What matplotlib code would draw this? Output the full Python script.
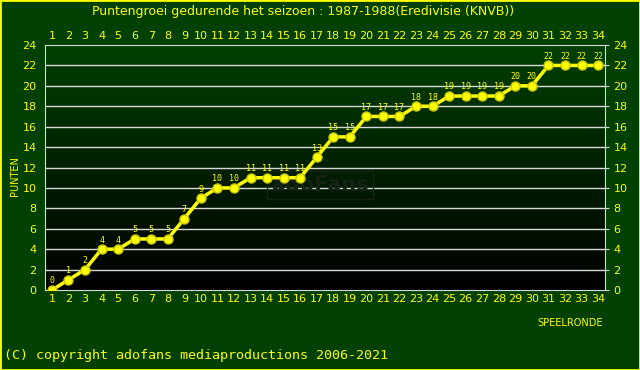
import numpy as np
import matplotlib
matplotlib.use('Agg')
from matplotlib import pyplot as plt

# speelronde en punten
rondes = list(range(1, 35))
punten = [0, 1, 2, 4, 4, 5, 5, 5, 7, 9, 10, 10, 11, 11, 11, 11, 13, 15, 15,
          17, 17, 17, 18, 18, 19, 19, 19, 19, 20, 20, 22, 22, 22, 22]
y_ticks = list(range(0, 25, 2))

GEEL = '#ffff00'
BG = '#004000'

fig = plt.figure(figsize=(6.4, 3.7), dpi=100, facecolor=BG)
ax = fig.add_axes([45 / 640, 80 / 370, 560 / 640, 245 / 370])
ax.set_facecolor('black')

x0, x1 = 0.58, 34.42
ax.set_xlim(x0, x1)
ax.set_ylim(0, 24)

# achtergrond verloop
grad = np.linspace(1, 0, 256).reshape(-1, 1)
cmap = matplotlib.colors.LinearSegmentedColormap.from_list('g', ['#000000', '#004000'])
ax.imshow(grad, extent=[x0, x1, 0, 24], aspect='auto', cmap=cmap, zorder=0,
          origin='upper', vmin=0, vmax=1)

for yv in y_ticks[1:-1]:
    ax.axhline(yv, color='#d8d8d8', lw=1, zorder=1)

ax.text(17.2, 10.3, 'adoFans', ha='center', va='center', fontsize=15,
        fontweight='bold', color='#152215', zorder=1,
        bbox=dict(boxstyle='square,pad=0.2', fc='none', ec='#152215', lw=1))

ax.plot(rondes, punten, '-o', color=GEEL, lw=2.5, ms=6.5, mec='#c8c800', zorder=3)
for r, p in zip(rondes, punten):
    ax.text(r, p + 0.45, str(p), ha='center', va='bottom', fontsize=6,
            family='DejaVu Sans Mono', color=GEEL, zorder=4)

for s in ax.spines.values():
    s.set_color('#d8d8d8')

ax.set_xticks(rondes)
ax.set_yticks(y_ticks)
ax.tick_params(axis='x', which='both', top=True, labeltop=True, bottom=True,
               labelbottom=True, length=0, pad=3, labelsize=8, labelcolor=GEEL)
ax.tick_params(axis='y', left=False, right=True, labelleft=True, labelright=True,
               length=3, color='#d8d8d8', pad=3, labelsize=8, labelcolor=GEEL)

fig.text(303 / 640, 1 - 12 / 370, 'Puntengroei gedurende het seizoen : 1987-1988(Eredivisie (KNVB))',
         ha='center', va='center', fontsize=9, color=GEEL)
fig.text(15 / 640, 1 - 176 / 370, 'PUNTEN', rotation=90, ha='center', va='center',
         fontsize=7, color=GEEL)
fig.text(603 / 640, 1 - 323 / 370, 'SPEELRONDE', ha='right', va='center',
         fontsize=7, color=GEEL)
fig.text(4 / 640, 1 - 355 / 370, '(C) copyright adofans mediaproductions 2006-2021',
         ha='left', va='center', fontsize=9.6, family='DejaVu Sans Mono', color=GEEL)

fig.patches.append(matplotlib.patches.Rectangle((0, 0), 1, 1, transform=fig.transFigure,
                   fill=False, edgecolor=GEEL, lw=2))

fig.savefig('out.png', dpi=100, facecolor=BG)
